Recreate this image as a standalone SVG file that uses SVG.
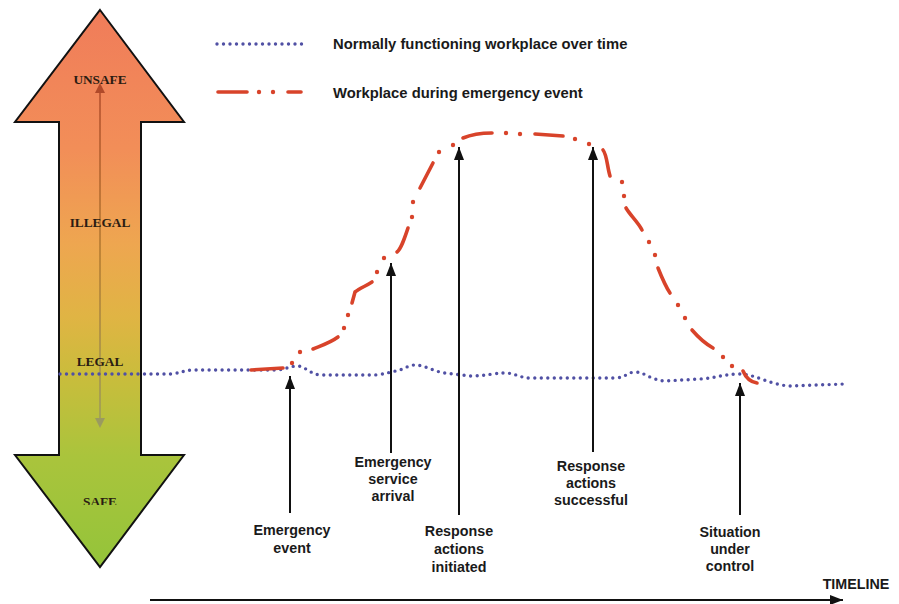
<svg xmlns="http://www.w3.org/2000/svg" width="899" height="604" viewBox="0 0 899 604">
<style>
.lbl{font-family:"Liberation Sans",Arial,sans-serif;font-weight:bold;font-size:14.3px;fill:#1a1a1a;text-anchor:middle}
.leg{font-family:"Liberation Sans",Arial,sans-serif;font-weight:bold;font-size:14.8px;fill:#1a1a1a}
.zone{font-family:"Liberation Serif","Times New Roman",serif;font-weight:bold;font-size:13.3px;fill:#2a1c12;text-anchor:middle}
.blue{fill:none;stroke:#5050a4;stroke-width:3.4;stroke-linecap:round;stroke-dasharray:0 6.5}
.rd{fill:none;stroke:#d8432a;stroke-width:3.6;stroke-linecap:round}
.rdot{fill:#d8432a}
.arr{stroke:#111;stroke-width:2;fill:none;marker-end:url(#ah)}
</style>
<defs>
<linearGradient id="g" gradientUnits="userSpaceOnUse" x1="0" y1="10" x2="0" y2="567">
<stop offset="0" stop-color="#f07c5a"/>
<stop offset="0.25" stop-color="#f28e58"/>
<stop offset="0.42" stop-color="#eea650"/>
<stop offset="0.55" stop-color="#e0b444"/>
<stop offset="0.65" stop-color="#cbbc3c"/>
<stop offset="0.8" stop-color="#aac43c"/>
<stop offset="1" stop-color="#94c43a"/>
</linearGradient>
<linearGradient id="gl" gradientUnits="userSpaceOnUse" x1="0" y1="85" x2="0" y2="428">
<stop offset="0" stop-color="#b04a2a"/>
<stop offset="0.5" stop-color="#b07a30"/>
<stop offset="1" stop-color="#9a9a60"/>
</linearGradient>
<marker id="ah" viewBox="0 0 13 10" refX="13" refY="5" markerWidth="13" markerHeight="10" markerUnits="userSpaceOnUse" orient="auto">
<path d="M0,0 L13,5 L0,10 z" fill="#111"/>
</marker>
<clipPath id="safeclip"><rect x="0" y="480" width="200" height="25"/></clipPath>
</defs>
<rect width="899" height="604" fill="#ffffff"/>

<g id="scale">
<polygon points="100,10 184,122 141,122 141,455 184,455 100,567 15,455 59,455 59,122 15,122" fill="url(#g)" stroke="#111" stroke-width="2" stroke-linejoin="miter"/>
<line x1="100" y1="92" x2="100" y2="418" stroke="url(#gl)" stroke-width="1.5"/>
<path d="M95,93 L100,83 L105,93 z" fill="#b04a2a"/>
<path d="M95,418 L100,428 L105,418 z" fill="#9a9a60"/>
<text class="zone" x="100" y="84">UNSAFE</text>
<text class="zone" x="100" y="227">ILLEGAL</text>
<text class="zone" x="100" y="366">LEGAL</text>
<text class="zone" x="100" y="506" clip-path="url(#safeclip)">SAFE</text>
</g>

<g id="legend">
<line x1="217" y1="44" x2="302" y2="44" class="blue" stroke-dasharray="0 7.08"/>
<text class="leg" x="333" y="49">Normally functioning workplace over time</text>
<line x1="218" y1="92" x2="247" y2="92" class="rd"/>
<circle class="rdot" cx="259" cy="92" r="2.2"/>
<circle class="rdot" cx="273" cy="92" r="2.2"/>
<line x1="288" y1="92" x2="301" y2="92" class="rd"/>
<text class="leg" x="333" y="98">Workplace during emergency event</text>
</g>

<g id="normal-line">
<path class="blue" d="M60,374 L172,374 C180,373 185,370 195,370 L275,370 C285,370 290,366 297,366 C305,366 310,374 320,375 L375,375 C385,374 395,371 400,370 C405,368 410,365 415,365 C425,365 435,372 445,373 L470,376 C485,376 495,373 505,373 C515,373 520,378 530,378 L615,378 C625,378 628,372 635,372 C645,372 650,380 665,381 L700,379 C715,378 725,374 740,374 C755,374 770,385 790,386 L845,384"/>
</g>

<g id="emergency-line">
<path class="rd" d="M251,370 L283,368"/>
<circle class="rdot" cx="292" cy="363" r="2.2"/>
<circle class="rdot" cx="300" cy="352" r="2.2"/>
<path class="rd" d="M313,349 C320,346 330,343 338,337"/>
<circle class="rdot" cx="344" cy="328" r="2.2"/>
<circle class="rdot" cx="348" cy="315" r="2.2"/>
<path class="rd" d="M352,303 L355,292 C360,288 366,286 372,282"/>
<circle class="rdot" cx="377" cy="272" r="2.2"/>
<circle class="rdot" cx="384" cy="258" r="2.2"/>
<path class="rd" d="M397,252 C401,249 404,240 408,228"/>
<circle class="rdot" cx="412" cy="217" r="2.2"/>
<circle class="rdot" cx="413" cy="202" r="2.2"/>
<path class="rd" d="M420,188 L433,163"/>
<circle class="rdot" cx="439" cy="152" r="2.2"/>
<circle class="rdot" cx="453" cy="145" r="2.2"/>
<path class="rd" d="M463,138 C470,135 480,133 492,133"/>
<circle class="rdot" cx="506" cy="133" r="2.2"/>
<circle class="rdot" cx="520" cy="134" r="2.2"/>
<path class="rd" d="M535,134 L563,136"/>
<circle class="rdot" cx="575" cy="139" r="2.2"/>
<circle class="rdot" cx="589" cy="144" r="2.2"/>
<path class="rd" d="M603,150 C607,155 607,166 610,176"/>
<circle class="rdot" cx="622" cy="182" r="2.2"/>
<circle class="rdot" cx="624" cy="196" r="2.2"/>
<path class="rd" d="M626,208 C630,215 638,222 642,230"/>
<circle class="rdot" cx="649" cy="242" r="2.2"/>
<circle class="rdot" cx="655" cy="255" r="2.2"/>
<path class="rd" d="M658,268 C662,278 666,287 670,293"/>
<circle class="rdot" cx="678" cy="305" r="2.2"/>
<circle class="rdot" cx="685" cy="318" r="2.2"/>
<path class="rd" d="M692,330 C698,337 706,344 713,348"/>
<circle class="rdot" cx="723" cy="357" r="2.2"/>
<circle class="rdot" cx="732" cy="366" r="2.2"/>
<path class="rd" d="M743,371 C746,378 750,382 757,383"/>
</g>

<g id="connectors">
<line class="arr" x1="290" y1="513" x2="290" y2="376"/>
<line class="arr" x1="391" y1="453" x2="391" y2="263"/>
<line class="arr" x1="459" y1="515" x2="459" y2="147"/>
<line class="arr" x1="593" y1="452" x2="593" y2="147"/>
<line class="arr" x1="740" y1="515" x2="740" y2="383"/>
<line class="arr" x1="150" y1="600" x2="843" y2="600"/>
</g>

<g id="n-emergency-event">
<text class="lbl" x="292" y="535">Emergency</text>
<text class="lbl" x="292" y="553">event</text>
</g>
<g id="n-service-arrival">
<text class="lbl" x="393" y="467">Emergency</text>
<text class="lbl" x="393" y="484">service</text>
<text class="lbl" x="393" y="501">arrival</text>
</g>
<g id="n-actions-initiated">
<text class="lbl" x="459" y="536">Response</text>
<text class="lbl" x="459" y="554">actions</text>
<text class="lbl" x="459" y="572">initiated</text>
</g>
<g id="n-actions-successful">
<text class="lbl" x="591" y="471">Response</text>
<text class="lbl" x="591" y="488">actions</text>
<text class="lbl" x="591" y="505">successful</text>
</g>
<g id="n-under-control">
<text class="lbl" x="730" y="537">Situation</text>
<text class="lbl" x="730" y="554">under</text>
<text class="lbl" x="730" y="571">control</text>
</g>
<g id="n-timeline">
<text class="lbl" x="856" y="589">TIMELINE</text>
</g>
</svg>
